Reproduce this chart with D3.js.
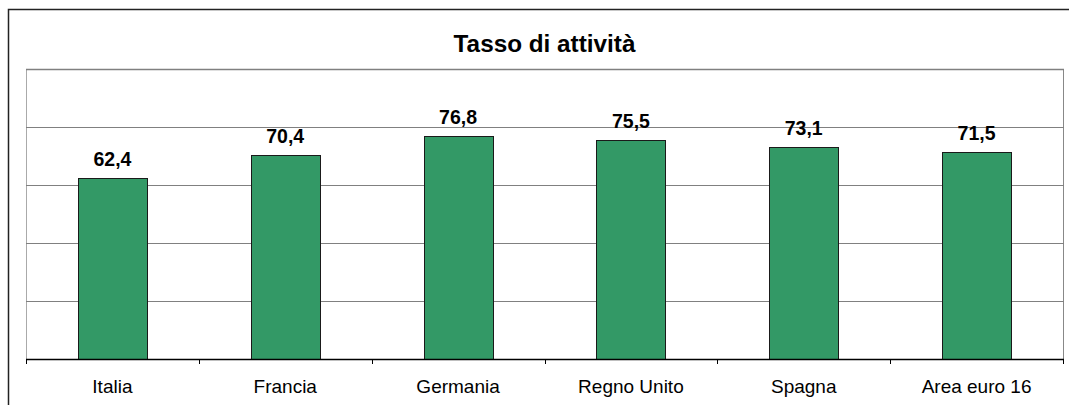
<!DOCTYPE html>
<html>
<head>
  <style>
    body { margin: 0; background: #fff; }
    text { font-family: "Liberation Sans", Arial, sans-serif; }
  </style>
  <script src="https://d3js.org/d3.v7.min.js"></script>
</head>
<body>
  <div id="chart"></div>
  <script>
    const categories = ["Italia", "Francia", "Germania", "Regno Unito", "Spagna", "Area euro 16"];
    const values = [62.4, 70.4, 76.8, 75.5, 73.1, 71.5];
    const yTicks = [0, 20, 40, 60, 80, 100];
    const title = "Tasso di attività";

    const width = 1069;
    const height = 405;
    const plot = { left: 26, top: 69, right: 1063, bottom: 359 };

    const svg = d3.select("#chart")
      .append("svg")
      .attr("width", width)
      .attr("height", height);

    // outer chart frame
    svg.append("rect")
      .attr("x", 8.5)
      .attr("y", 9.5)
      .attr("width", width + 10)
      .attr("height", height + 10)
      .attr("fill", "none")
      .attr("stroke", "#222")
      .attr("stroke-width", 1.5);

    const x = d3.scaleBand()
      .domain(categories)
      .range([plot.left, plot.right])
      .paddingInner(0.6)
      .paddingOuter(0.3);

    const band = d3.scaleBand()
      .domain(categories)
      .range([plot.left, plot.right]);

    const y = d3.scaleLinear()
      .domain([0, 100])
      .range([plot.bottom, plot.top]);

    // plot area border
    svg.append("line")
      .attr("x1", plot.left + 0.5).attr("x2", plot.left + 0.5)
      .attr("y1", plot.top).attr("y2", plot.bottom)
      .attr("stroke", "#aaa");
    svg.append("line")
      .attr("x1", plot.right + 0.5).attr("x2", plot.right + 0.5)
      .attr("y1", plot.top).attr("y2", plot.bottom)
      .attr("stroke", "#888");

    // gridlines
    svg.append("g")
      .selectAll("line")
      .data(yTicks.slice(1))
      .enter()
      .append("line")
      .attr("x1", plot.left)
      .attr("x2", plot.right + 1)
      .attr("y1", d => Math.round(y(d)) + 0.5)
      .attr("y2", d => Math.round(y(d)) + 0.5)
      .attr("stroke", "#808080")
      .attr("stroke-width", d => d === 100 ? 1.5 : 1);

    // bars
    svg.append("g")
      .selectAll("rect")
      .data(values)
      .enter()
      .append("rect")
      .attr("x", (d, i) => Math.round(x(categories[i])) + 0.5)
      .attr("y", d => Math.round(y(d)) + 0.5)
      .attr("width", Math.round(x.bandwidth()))
      .attr("height", d => plot.bottom - Math.round(y(d)))
      .attr("fill", "#339966")
      .attr("stroke", "#1a1a1a")
      .attr("stroke-width", 1);

    // value labels
    svg.append("g")
      .selectAll("text")
      .data(values)
      .enter()
      .append("text")
      .attr("x", (d, i) => x(categories[i]) + x.bandwidth() / 2)
      .attr("y", d => y(d) - 12)
      .attr("text-anchor", "middle")
      .attr("font-size", 19.5)
      .attr("font-weight", "bold")
      .attr("fill", "#000")
      .text(d => d.toFixed(1).replace(".", ","));

    // x axis
    svg.append("line")
      .attr("x1", plot.left)
      .attr("x2", plot.right + 1)
      .attr("y1", plot.bottom + 0.5)
      .attr("y2", plot.bottom + 0.5)
      .attr("stroke", "#000")
      .attr("stroke-width", 1.5);

    const tickPos = categories.map(c => band(c)).concat([plot.right]);
    svg.append("g")
      .selectAll("line")
      .data(tickPos)
      .enter()
      .append("line")
      .attr("x1", d => Math.round(d) + 0.5)
      .attr("x2", d => Math.round(d) + 0.5)
      .attr("y1", plot.bottom)
      .attr("y2", plot.bottom + 5)
      .attr("stroke", "#000");

    svg.append("g")
      .selectAll("text")
      .data(categories)
      .enter()
      .append("text")
      .attr("x", d => band(d) + band.bandwidth() / 2)
      .attr("y", 393)
      .attr("text-anchor", "middle")
      .attr("font-size", 19)
      .attr("fill", "#000")
      .text(d => d);

    // title
    svg.append("text")
      .attr("x", (plot.left + plot.right) / 2)
      .attr("y", 52)
      .attr("text-anchor", "middle")
      .attr("font-size", 24.3)
      .attr("font-weight", "bold")
      .attr("fill", "#000")
      .text(title);
  </script>
</body>
</html>
